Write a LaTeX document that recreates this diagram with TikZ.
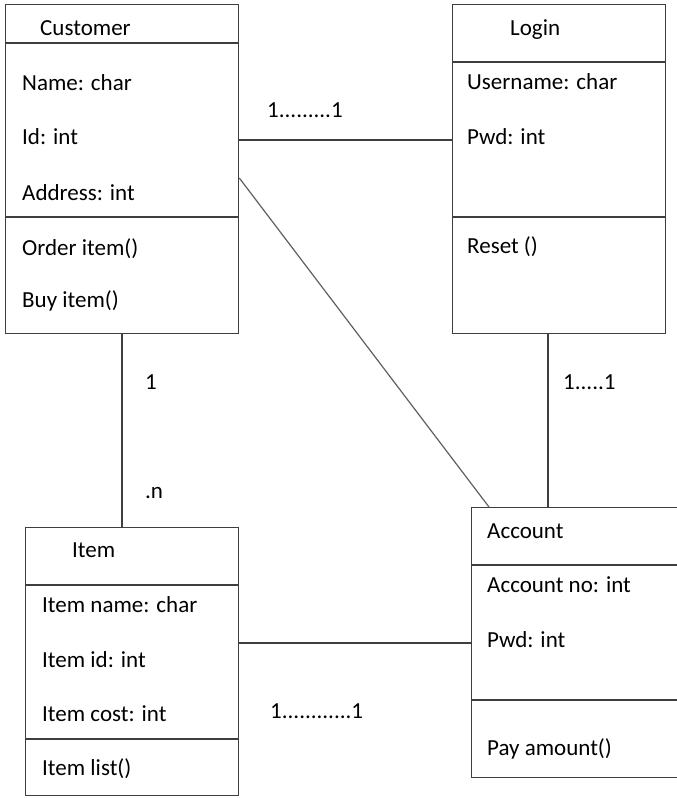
\documentclass[tikz,border=0pt]{standalone}
\usepackage{fontspec}
\setmainfont{Carlito}
\usetikzlibrary{positioning}
\definecolor{UMLLine}{RGB}{62,62,62}
\definecolor{UMLDiag}{RGB}{95,95,95}
\newcommand{\umlfont}{\fontsize{23}{27}\selectfont}

\tikzset{
  classbox/.style={draw=UMLLine, line width=1.3pt, anchor=north west, inner sep=0pt},
  divider/.style={draw=UMLLine, line width=1.3pt},
  member/.style={anchor=base west, inner sep=0pt, font=\umlfont},
  assoc/.style={draw=UMLLine, line width=1.3pt},
  mult/.style={anchor=base west, inner sep=0pt, font=\umlfont}
}

\begin{document}
\begin{tikzpicture}[x=1pt, y=-1pt]
  \useasboundingbox (0,0) rectangle (677,798);

  % Class boxes
  \node[classbox, minimum width=233pt, minimum height=329pt] (customer) at (5,4) {};
  \node[classbox, minimum width=213pt, minimum height=329pt] (login) at (452,4) {};
  \node[classbox, minimum width=213pt, minimum height=268pt] (item) at (25,527) {};
  \node[classbox, minimum width=220pt, minimum height=270pt] (account) at (471,507) {};

  % Compartments
  \draw[divider] (customer.west |- 0,43) -- (customer.east |- 0,43);
  \draw[divider] (customer.west |- 0,217) -- (customer.east |- 0,217);
  \draw[divider] (login.west |- 0,62) -- (login.east |- 0,62);
  \draw[divider] (login.west |- 0,217) -- (login.east |- 0,217);
  \draw[divider] (item.west |- 0,585) -- (item.east |- 0,585);
  \draw[divider] (item.west |- 0,739) -- (item.east |- 0,739);
  \draw[divider] (account.west |- 0,565) -- (account.east |- 0,565);
  \draw[divider] (account.west |- 0,700) -- (account.east |- 0,700);

  % Class names
  \node[member] (customer-name) at (40,35) {Customer};
  \node[member] (login-name) at (510,35) {Login};
  \node[member] (item-name) at (72,557) {Item};
  \node[member] (account-name) at (487,538) {Account};

  % Members
  \foreach \y/\txt [count=\i] in {90/Name: char, 144/Id: int, 200/Address: int, 255/Order item(), 307/Buy item()} {
    \node[member] (customer-\i) at (22,\y) {\txt};
  }
  \foreach \y/\txt [count=\i] in {89/Username: char, 144/Pwd: int, 253/Reset ()} {
    \node[member] (login-\i) at (467,\y) {\txt};
  }
  \foreach \y/\txt [count=\i] in {612/Item name: char, 667/Item id: int, 721/Item cost: int, 775/Item list()} {
    \node[member] (item-\i) at (42,\y) {\txt};
  }
  \foreach \y/\txt [count=\i] in {592/Account no: int, 647/Pwd: int, 755/Pay amount()} {
    \node[member] (account-\i) at (487,\y) {\txt};
  }

  % Associations
  \draw[assoc] (customer.east |- 0,140) -- (login.west |- 0,140);
  \draw[UMLDiag, line width=1.2pt] (customer.east |- 0,178) -- (account.north -| 489,0);
  \draw[assoc] (customer.south -| 122,0) -- (item.north -| 122,0);
  \draw[assoc] (login.south -| 548,0) -- (account.north -| 548,0);
  \draw[assoc] (item.east |- 0,643) -- (account.west |- 0,643);

  % Multiplicities
  \node[mult] (m-cust-login) at (267,117) {1.........1};
  \node[mult] (m-cust-one) at (145,389) {1};
  \node[mult] (m-item-n) at (145,498) {.n};
  \node[mult] (m-login-acc) at (563,389) {1.....1};
  \node[mult] (m-item-acc) at (270,718) {1............1};
\end{tikzpicture}
\end{document}
